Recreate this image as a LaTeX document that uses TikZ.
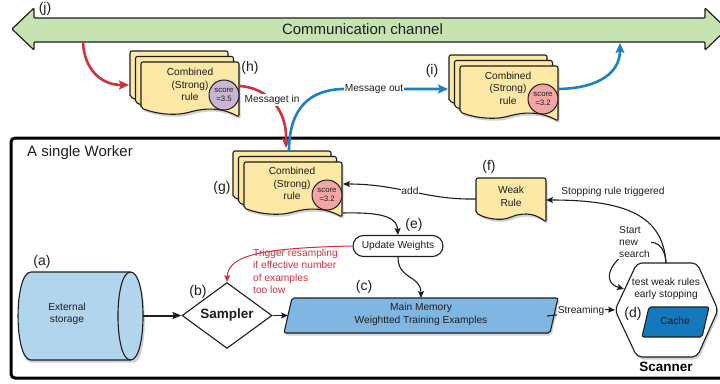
\documentclass[tikz,border=0pt]{standalone}
\usepackage{fontspec}
\setmainfont{Liberation Sans}
\usetikzlibrary{arrows.meta,shapes.geometric,shapes.misc,calc}
\definecolor{chgreen}{RGB}{198,228,178}
\definecolor{cardy}{RGB}{253,232,166}
\definecolor{pinkc}{RGB}{244,166,166}
\definecolor{purplec}{RGB}{201,182,212}
\definecolor{extblue}{RGB}{178,213,238}
\definecolor{memblue}{RGB}{128,182,226}
\definecolor{cacheblue}{RGB}{20,120,188}
\definecolor{redc}{RGB}{210,48,62}
\definecolor{bluec}{RGB}{28,128,196}
\definecolor{txt}{RGB}{30,30,30}
\newcommand\docpath[4]{(#1,#2+#4) -- (#1,#2) -- (#1+#3,#2) -- (#1+#3,#2+#4+9) .. controls (#1+0.8*#3,#2+#4-2) and (#1+0.62*#3,#2+#4+1) .. (#1+0.5*#3,#2+#4+4) .. controls (#1+0.35*#3,#2+#4+8) and (#1+0.15*#3,#2+#4+6) .. (#1,#2+#4) -- cycle}
\newcommand\stackcard[2]{%
  \foreach \dd in {11,5.5,0}{%
    \fill[cardshadow] \docpath{#1-\dd+1.5}{#2-\dd+2.5}{98}{46};
    \draw[cardstyle] \docpath{#1-\dd}{#2-\dd}{98}{46};
  }}
\tikzset{
  cardstyle/.style={draw=txt, fill=cardy, line width=1.1pt, rounded corners=2pt},
  cardshadow/.style={fill=black, fill opacity=0.18, rounded corners=2pt},
  cardtext/.style={font=\fontsize{10.2}{12.4}\selectfont, align=center, text=txt, inner sep=0pt},
  scoretext/.style={circle, draw=txt, line width=1pt, minimum size=30pt, inner sep=0pt, align=center, text=txt, font=\fontsize{7.8}{9.2}\selectfont},
  lbl/.style={font=\fontsize{14}{16}\selectfont, inner sep=0pt, text=txt},
  small/.style={font=\fontsize{10.2}{12.4}\selectfont, inner sep=1pt, text=txt},
  whitelbl/.style={small, fill=white, inner sep=0.8pt},
  conn/.style={draw=txt, line width=1.1pt, -{Stealth[length=7pt,width=6pt,inset=1.5pt]}},
  redconn/.style={draw=redc, line width=2.6pt, -{Stealth[length=10pt,width=9pt,inset=2pt]}},
  blueconn/.style={draw=bluec, line width=2.6pt, -{Stealth[length=10pt,width=9pt,inset=2pt]}},
  redthin/.style={draw=redc, line width=1pt, -{Stealth[length=7pt,width=6pt,inset=1.5pt]}},
}
\begin{document}
\begin{tikzpicture}[x=1pt,y=-1pt]
\useasboundingbox (0,0) rectangle (720,383);

% communication channel
\draw[fill=chgreen, draw=txt, line width=1.2pt, rounded corners=1pt]
  (12,29) -- (34,8) -- (34,18) -- (705,18) -- (705,8) -- (727,29) -- (705,50) -- (705,42) -- (34,42) -- (34,50) -- cycle;
\node[font=\fontsize{15}{18}\selectfont, text=txt] (chan) at (362.5,29) {Communication channel};
\node[lbl] (jlbl) at (45,9) {(j)};
\coordinate (chanL) at (83,42);
\coordinate (chanR) at (620,43);

% worker box
\draw[line width=3pt, draw=black, rounded corners=4pt] (11,138) rectangle (727,378);
\node[font=\fontsize{15}{18}\selectfont, text=txt, anchor=west, inner sep=0pt] (worker) at (27,153) {A single Worker};

% card (h)
\stackcard{141}{62}
\node[cardtext] (hcard) at (190,84.5) {Combined\\(Strong)\\rule};
\node[scoretext, fill=purplec] (hscore) at (224,95) {score\\=3.5};
\node[lbl] (hlbl) at (250,68) {(h)};
\coordinate (hin) at (129,85);
\coordinate (hout) at (240,86);

% card (i)
\stackcard{460}{66}
\node[cardtext] (icard) at (508,88) {Combined\\(Strong)\\rule};
\node[scoretext, fill=pinkc] (iscore) at (543,99) {score\\=3.2};
\node[lbl] (ilbl) at (432,71) {(i)};
\coordinate (iin) at (448,89);
\coordinate (iout) at (559,89);

% card (g)
\stackcard{244}{162}
\node[cardtext] (gcard) at (292,183.5) {Combined\\(Strong)\\rule};
\node[scoretext, fill=pinkc] (gscore) at (327,195) {score\\=3.2};
\node[lbl] (glbl) at (222,188) {(g)};
\coordinate (gtop) at (289,151);
\coordinate (gin) at (343,184);
\coordinate (gout) at (343,213);

% weak rule (f)
\fill[cardshadow] \docpath{477.5}{180.5}{70}{35};
\draw[cardstyle] \docpath{476}{178}{70}{35};
\node[cardtext] (weak) at (511,196.5) {Weak\\Rule};
\node[lbl] (flbl) at (489,167) {(f)};
\coordinate (frin) at (476,199);
\coordinate (frout) at (546,200);

% update weights (e)
\node[rounded rectangle, draw=txt, fill=white, line width=1.1pt, minimum width=90pt, minimum height=21pt, inner sep=0pt, font=\fontsize{10.2}{12.4}\selectfont, text=txt] (uw) at (398,246) {Update Weights};
\node[lbl] (elbl) at (414,225) {(e)};

% external storage (a)
\fill[cardshadow] (132,274.5) -- (32.5,274.5) .. controls (15.2,274.5) and (15.2,362.5) .. (32.5,362.5) -- (132,362.5) .. controls (148.7,362.5) and (148.7,274.5) .. (132,274.5);
\draw[fill=extblue, draw=txt, line width=1.1pt] (130.5,272) -- (31,272) .. controls (13.7,272) and (13.7,360) .. (31,360) -- (130.5,360) .. controls (147.2,360) and (147.2,272) .. (130.5,272);
\draw[draw=txt, line width=1.1pt] (130.5,272) .. controls (113.8,272) and (113.8,360) .. (130.5,360);
\node[inner sep=0pt, minimum width=125pt, minimum height=88pt] (ext) at (80.5,315.5) {};
\node[cardtext] (exttext) at (67,314) {External\\storage};
\node[lbl] (albl) at (42,262) {(a)};

% sampler (b)
\node[diamond, draw=txt, fill=white, line width=1.1pt, minimum width=90pt, minimum height=65pt, inner sep=0pt, text=txt, font=\bfseries\fontsize{13.5}{15}\selectfont] (sampler) at (227,315.5) {Sampler};
\node[lbl] (blbl) at (198,292) {(b)};

% main memory (c)
\fill[cardshadow] (285.5,335.5) -- (293.5,300.5) -- (559.5,300.5) -- (551.5,335.5) -- cycle;
\draw[fill=memblue, draw=txt, line width=1.1pt, rounded corners=2pt] (284,333) -- (292,298) -- (558,298) -- (550,333) -- cycle;
\node[cardtext] (mm) at (421,314.5) {Main Memory\\Weightted Training Examples};
\node[lbl] (clbl) at (364,287) {(c)};
\coordinate (mmtop) at (421,298);
\coordinate (mmleft) at (288,315.5);
\coordinate (mmright) at (547,316);

% scanner (d)
\fill[cardshadow, rounded corners=5pt] (638.5,265.5) -- (698.5,265.5) -- (719.5,312.5) -- (698.5,359.5) -- (638.5,359.5) -- (616.5,312.5) -- cycle;
\draw[fill=white, draw=txt, line width=1.1pt, rounded corners=5pt] (637,263) -- (697,263) -- (718,310) -- (697,357) -- (637,357) -- (615,310) -- cycle;
\node[cardtext] (scan) at (666,289) {test weak rules\\early stopping};
\draw[fill=cacheblue, draw=txt, line width=1.1pt, rounded corners=2pt] (649,307) -- (709,307) -- (702,337) -- (642,337) -- cycle;
\node[cardtext] (cache) at (675,321) {Cache};
\node[lbl] (dlbl) at (633,314) {(d)};
\node[font=\bfseries\fontsize{13.5}{15}\selectfont, text=black, inner sep=0pt] (scanner) at (666,367) {Scanner};
\coordinate (scantop) at (666,263);
\coordinate (scanul) at (624,289);
\coordinate (scanleft) at (615,310);

% connectors
\draw[redconn] (chanL) .. controls (84,68) and (100,85) .. (hin);
\draw[redconn] (hout) .. controls (268,88) and (287,110) .. (286,148);
\node[whitelbl] (msgin) at (272,100) {Messaget in};
\draw[blueconn] (gtop) .. controls (289,108) and (310,89) .. (345,89) -- (iin);
\node[whitelbl] (msgout) at (374,89) {Message out};
\draw[blueconn] (iout) .. controls (600,88) and (620,72) .. (chanR);

\draw[conn] (frin) .. controls (425,200) and (400,184) .. (gin);
\node[whitelbl] (addl) at (410,191) {add};
\draw[conn] (gout) .. controls (385,212) and (397,218) .. (uw.north);
\draw[redthin] (uw.west) .. controls (262,248) and (228,255) .. (sampler.north);
\node[small, text=redc, align=left, inner sep=0pt] (trig) at (295.5,271.5) {Trigger resampling\\if effective number\\of examples\\too low};
\draw[conn] (uw.south) .. controls (398,280) and (421,275) .. (mmtop);
\draw[draw=txt, line width=2pt, -{Stealth[length=9pt,width=7pt,inset=1.5pt]}] (ext.east) -- (sampler.west);
\draw[conn] (sampler.east) -- (mmleft);
\draw[conn] (mmright) .. controls (575,313) and (595,309) .. (scanleft);
\node[whitelbl] (stream) at (581,311) {Streaming};
\draw[conn] (scantop) .. controls (663,215) and (625,200) .. (frout);
\node[small] (stopl) at (613,192) {Stopping rule triggered};
\draw[conn] (scantop) .. controls (665,245) and (655,238) .. (640,245) .. controls (610,258) and (600,282) .. (scanul);
\node[whitelbl, align=left] (startl) at (634.5,242) {Start\\new\\search};
\end{tikzpicture}
\end{document}
